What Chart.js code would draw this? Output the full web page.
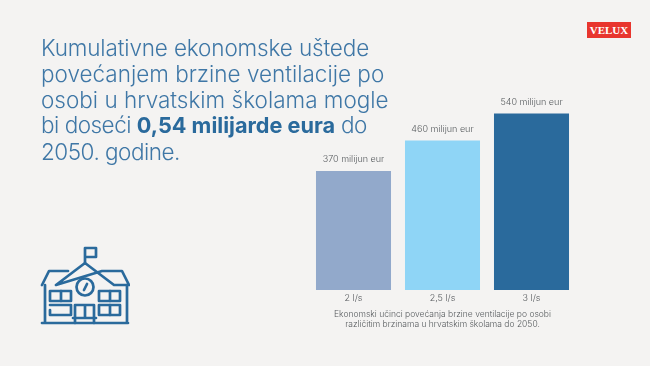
<!DOCTYPE html>
<html>
<head>
<meta charset="utf-8">
<style>
html, body { margin: 0; padding: 0; background: #f4f3f2; }
#wrap { position: relative; width: 650px; height: 366px; overflow: hidden; }
#chart { position: absolute; left: 0; top: 0; }
#heading {
    position: absolute; left: 41px; top: 35px; width: 360px;
    font-family: "Inter", sans-serif; font-weight: 300; font-size: 22.5px; line-height: 25.8px;
    color: #3f77a6; white-space: nowrap;
}
#heading b { font-weight: 700; color: #2a6a9c; font-size: 21.7px; letter-spacing: 0; }
#heading .tight { letter-spacing: -0.5px; }
#heading .first { letter-spacing: -0.14px; }
#logo {
    position: absolute; left: 587px; top: 22px; width: 44px; height: 16px; background: #e8352e;
    color: #fff; font-family: "Liberation Serif", serif; font-weight: 700; font-size: 11px;
    line-height: 16px; text-align: center;
}
#icon { position: absolute; left: 40px; top: 245px; }
</style>
<script src="https://cdn.jsdelivr.net/npm/chart.js@4"></script>
</head>
<body>
<div id="wrap">
    <canvas id="chart" width="650" height="366"></canvas>
    <div id="heading"><span class="first">Kumulativne ekonomske uštede</span><br>povećanjem brzine ventilacije po<br>osobi u hrvatskim školama mogle<br><span class="tight">bi doseći <b>0,54 milijarde eura</b> do</span><br><span class="tight">2050. godine.</span></div>
    <div id="logo">VELUX</div>
    <svg id="icon" width="90" height="82" viewBox="0 0 90 82" fill="none" stroke="#2a6a9c" stroke-width="2.7" stroke-linejoin="round" stroke-linecap="round">
        <path d="M45 18V3h11v9H45"/>
        <path d="M2 40l7-14h19M62 26h20l7 14H74L45 18 16 40z"/>
        <path d="M5 40v38M87 40v38M2 78h86"/>
        <circle cx="45" cy="42" r="8.5"/>
        <path d="M44 45l3-6"/>
        <rect x="10" y="46" width="21" height="10"/>
        <rect x="59" y="46" width="21" height="10"/>
        <path d="M10 65v5h21V60H10"/>
        <rect x="59" y="60" width="21" height="10"/>
        <path d="M21 46v10M70 46v10M70 60v10"/>
        <path d="M35 78V60h19v18M45 60v13M33 73h23"/>
    </svg>
</div>
<script>
const categories = ['2 l/s', '2,5 l/s', '3 l/s'];
const values = [370, 460, 540];
const valueLabels = ['370 milijun eur', '460 milijun eur', '540 milijun eur'];
const barColors = ['#92a9cb', '#8fd5f6', '#2a6a9c'];
const captionLines = [
    'Ekonomski učinci povećanja brzine ventilacije po osobi',
    'različitim brzinama u hrvatskim školama do 2050.'
];

const textColor = '#55595c';
const fontName = 'Inter, sans-serif';

// writes the value above each bar
const barValueLabels = {
    id: 'barValueLabels',
    afterDatasetsDraw(chart) {
        const ctx = chart.ctx;
        ctx.save();
        ctx.font = '300 9px ' + fontName;
        ctx.fillStyle = textColor;
        ctx.textAlign = 'center';
        ctx.textBaseline = 'bottom';
        chart.getDatasetMeta(0).data.forEach((bar, i) => {
            ctx.fillText(valueLabels[i], bar.x, bar.y - 7);
        });
        ctx.restore();
    }
};

new Chart(document.getElementById('chart'), {
    type: 'bar',
    data: {
        labels: categories,
        datasets: [{
            data: values,
            backgroundColor: barColors,
            borderWidth: 0,
            categoryPercentage: 1,
            barPercentage: 0.843
        }]
    },
    options: {
        responsive: false,
        animation: false,
        layout: { padding: { left: 309, right: 74, top: 93, bottom: 36 } },
        plugins: { legend: { display: false }, tooltip: { enabled: false } },
        scales: {
            x: {
                grid: { display: false, drawTicks: false },
                border: { display: false },
                ticks: { color: textColor, padding: 3, maxRotation: 0, font: { family: fontName, size: 9, weight: '300' } },
                title: {
                    display: true,
                    text: captionLines,
                    color: textColor,
                    padding: { top: 0, bottom: 0 },
                    font: { family: fontName, size: 8.5, weight: '300', lineHeight: 1.25 }
                },
                afterFit(scale) { scale.height = 40; }
            },
            y: {
                display: false,
                min: 20,
                max: 600
            }
        }
    },
    plugins: [barValueLabels]
});
</script>
</body>
</html>
